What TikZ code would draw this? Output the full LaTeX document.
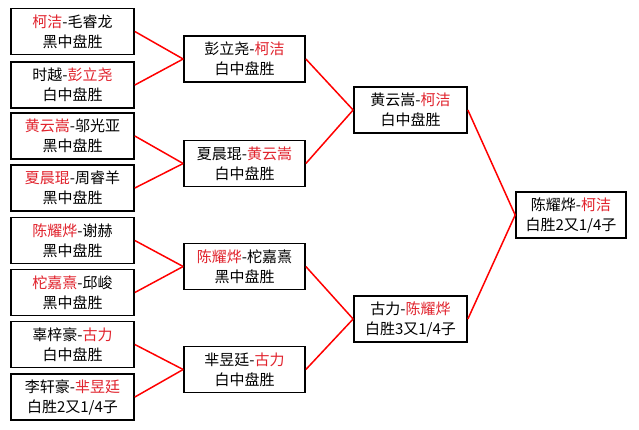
\documentclass[tikz,border=0pt]{standalone}
\usepackage{fontspec}
\setmainfont{Noto Sans CJK SC}
\definecolor{winred}{RGB}{225,35,45}
\newcommand\RR[1]{\textcolor{winred}{#1}}
\begin{document}
\begin{tikzpicture}[x=1pt,y=-1pt,
  box/.style={draw=black,line width=1.7pt,minimum height=46pt,inner sep=0pt,align=center,
    font=\fontsize{15}{20}\selectfont},
  c1/.style={box,minimum width=123pt},
  c2/.style={box,minimum width=121pt},
  c3/.style={box,minimum width=113pt},
  c4/.style={box,minimum width=110pt},
  link/.style={draw=red,line width=1.5pt}]
\fill[white] (0,0) rectangle (639,429);
\useasboundingbox (0,0) rectangle (639,429);
% round 1
\node[c1] (a1) at (72.5,31.5) {\RR{柯洁}-毛睿龙\\黑中盘胜};
\node[c1] (a2) at (72.5,85) {时越-\RR{彭立尧}\\白中盘胜};
\node[c1] (a3) at (72.5,136) {\RR{黄云嵩}-邬光亚\\黑中盘胜};
\node[c1] (a4) at (72.5,188) {\RR{夏晨琨}-周睿羊\\黑中盘胜};
\node[c1] (a5) at (72.5,240.5) {\RR{陈耀烨}-谢赫\\黑中盘胜};
\node[c1] (a6) at (72.5,292.5) {\RR{柁嘉熹}-邱峻\\黑中盘胜};
\node[c1] (a7) at (72.5,344.5) {辜梓豪-\RR{古力}\\白中盘胜};
\node[c1] (a8) at (72.5,397) {李轩豪-\RR{芈昱廷}\\白胜2又1/4子};
% round 2
\node[c2] (b1) at (244.5,59) {彭立尧-\RR{柯洁}\\白中盘胜};
\node[c2] (b2) at (244.5,163.5) {夏晨琨-\RR{黄云嵩}\\白中盘胜};
\node[c2] (b3) at (244.5,266.5) {\RR{陈耀烨}-柁嘉熹\\黑中盘胜};
\node[c2] (b4) at (244.5,369.5) {芈昱廷-\RR{古力}\\白中盘胜};
% round 3
\node[c3] (d1) at (410.5,110) {黄云嵩-\RR{柯洁}\\白中盘胜};
\node[c3] (d2) at (410.5,319) {古力-\RR{陈耀烨}\\白胜3又1/4子};
% final
\node[c4] (f) at (571,215) {陈耀烨-\RR{柯洁}\\白胜2又1/4子};
% links
\foreach \s/\t in {a1/b1,a2/b1,a3/b2,a4/b2,a5/b3,a6/b3,a7/b4,a8/b4,b1/d1,b2/d1,b3/d2,b4/d2,d1/f,d2/f}
  \draw[link] (\s.east) -- (\t.west);
\end{tikzpicture}
\end{document}
